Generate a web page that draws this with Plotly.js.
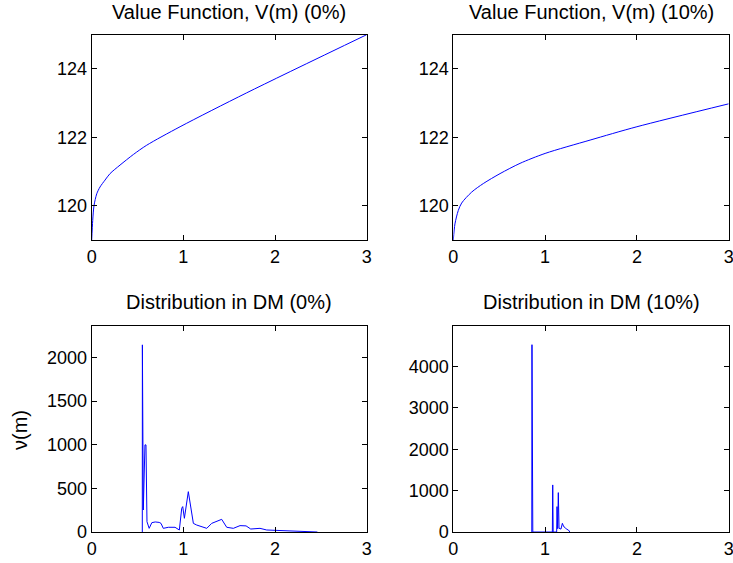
<!DOCTYPE html>
<html>
<head>
<meta charset="utf-8">
<script src="https://cdn.plot.ly/plotly-3.0.1.min.js"></script>
<style>html,body{margin:0;padding:0;background:#fff;}#chart{width:733px;height:563px;}</style>
</head>
<body>
<div id="chart"></div>
<script>
// Value function, 0%
const vf0_m = [0, 0.011, 0.025, 0.055, 0.091, 0.145, 0.2, 0.309, 0.455, 0.6, 0.964, 1.69, 3.0];
const vf0_v = [119.0, 119.57, 120.0, 120.35, 120.55, 120.75, 120.94, 121.19, 121.5, 121.77, 122.31, 123.3, 125.0];
// Value function, 10%
const vf10_m = [0, 0.018, 0.054, 0.091, 0.2, 0.327, 0.509, 0.727, 1.0, 1.49, 2.0, 3.0];
const vf10_v = [119.0, 119.47, 119.86, 120.08, 120.4, 120.65, 120.94, 121.24, 121.53, 121.92, 122.31, 122.98];
// Distribution in DM, 0%
const dm0_m = [0.552, 0.553, 0.563, 0.581, 0.592, 0.603, 0.627, 0.656, 0.693, 0.736, 0.756, 0.781, 0.836, 0.909, 0.956, 0.982, 0.993, 1.011, 1.054, 1.084, 1.109, 1.145, 1.2, 1.255, 1.309, 1.371, 1.418, 1.473, 1.545, 1.618, 1.684, 1.735, 1.836, 1.909, 2.055, 2.2, 2.455, 2.462];
const dm0_v = [0, 2144, 252, 998, 998, 118, 42, 107, 115, 110, 99, 42, 54, 54, 23, 272, 291, 157, 462, 272, 99, 80, 61, 42, 99, 130, 145, 54, 42, 73, 70, 34, 42, 23, 19, 8, 4, 0];
// Distribution in DM, 10%
const dm10_m = [0.855, 0.857, 0.866, 1.079, 1.083, 1.088, 1.126, 1.130, 1.137, 1.144, 1.152, 1.173, 1.188, 1.203, 1.217, 1.232, 1.254, 1.27];
const dm10_v = [0, 4528, 0, 0, 1138, 0, 0, 613, 80, 952, 90, 70, 210, 128, 110, 70, 48, 0];

const font = {family: 'Liberation Sans, Arial, sans-serif', size: 18, color: '#000'};
const tfont = {family: 'Liberation Sans, Arial, sans-serif', size: 20, color: '#000'};
const smooth = {color: '#0000ff', width: 1, shape: 'spline', smoothing: 0.8};
const straight = {color: '#0000ff', width: 1};

function ax(domain, range, dtick, anchor) {
  return {
    domain: domain, range: range, dtick: dtick, tick0: 0, anchor: anchor,
    showline: true, linecolor: '#000', linewidth: 1, mirror: 'ticks',
    ticks: 'inside', ticklen: 5, tickcolor: '#000', tickwidth: 1,
    showgrid: false, zeroline: false, tickfont: font, fixedrange: true,
    ticklabeloverflow: 'allow'
  };
}

const xL = [91.7/733, 366.7/733], xR = [453.3/733, 728.7/733];
const yT = [1-240/563, 1-34.7/563], yB = [1-532/563, 1-326/563];

const traces = [
  {x: vf0_m, y: vf0_v, xaxis: 'x', yaxis: 'y', mode: 'lines', line: smooth, hoverinfo: 'none'},
  {x: vf10_m, y: vf10_v, xaxis: 'x2', yaxis: 'y2', mode: 'lines', line: smooth, hoverinfo: 'none'},
  {x: dm0_m, y: dm0_v, xaxis: 'x3', yaxis: 'y3', mode: 'lines', line: straight, hoverinfo: 'none'},
  {x: dm10_m, y: dm10_v, xaxis: 'x4', yaxis: 'y4', mode: 'lines', line: straight, hoverinfo: 'none'}
];

function title(text, xd, ypx) {
  return {text: text, x: (xd[0]+xd[1])/2, y: 1 - ypx/563, xref: 'paper', yref: 'paper',
          xanchor: 'center', yanchor: 'middle', showarrow: false, font: tfont};
}

const layout = {
  width: 733, height: 563, margin: {l: 0, r: 0, t: 0, b: 0},
  paper_bgcolor: '#fff', plot_bgcolor: '#fff', showlegend: false, font: font,
  xaxis: ax(xL, [0, 3], 1, 'y'),
  yaxis: ax(yT, [119, 125], 2, 'x'),
  xaxis2: ax(xR, [0, 3], 1, 'y2'),
  yaxis2: ax(yT, [119, 125], 2, 'x2'),
  xaxis3: ax(xL, [0, 3], 1, 'y3'),
  yaxis3: ax(yB, [0, 2360], 500, 'x3'),
  xaxis4: ax(xR, [0, 3], 1, 'y4'),
  yaxis4: ax(yB, [0, 4980], 1000, 'x4'),
  annotations: [
    title('Value Function, V(m) (0%)', xL, 12),
    title('Value Function, V(m) (10%)', xR, 12),
    title('Distribution in DM (0%)', xL, 302),
    title('Distribution in DM (10%)', xR, 302),
    {text: 'ν(m)', x: 20/733, y: 1 - 430/563, xref: 'paper', yref: 'paper', xanchor: 'center', yanchor: 'middle',
     textangle: -90, showarrow: false, font: tfont}
  ]
};

Plotly.newPlot('chart', traces, layout, {staticPlot: true, displayModeBar: false});
</script>
</body>
</html>
